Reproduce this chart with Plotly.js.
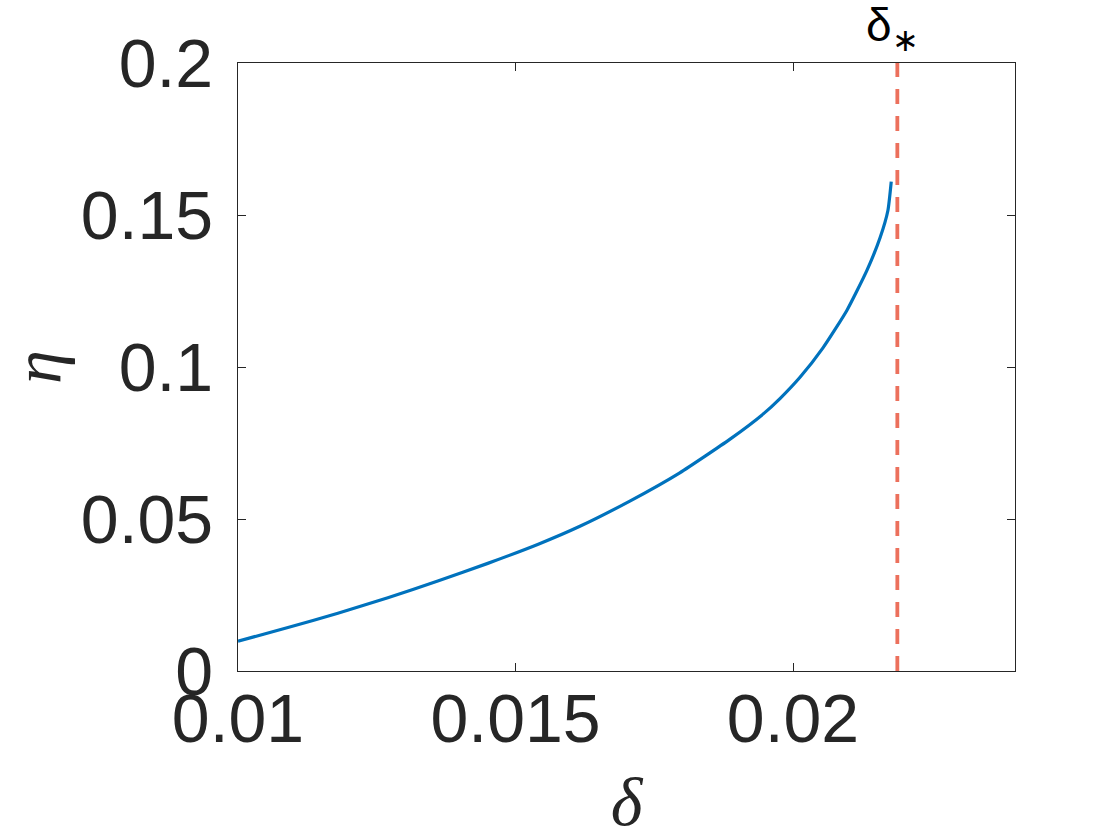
<!DOCTYPE html>
<html>
<head>
<meta charset="utf-8">
<script src="https://cdn.plot.ly/plotly-3.0.1.min.js"></script>
<style>html,body{margin:0;padding:0;background:#fff;}#chart{width:1120px;height:840px;}</style>
</head>
<body>
<div id="chart"></div>
<script>
// Curve data
const delta = [0.01000, 0.01090, 0.01180, 0.01270, 0.01360, 0.01450, 0.01541, 0.01616, 0.01706, 0.01796, 0.01886, 0.01946, 0.01977, 0.02013, 0.02054, 0.02097, 0.02133, 0.02157, 0.02171, 0.02177];
const eta   = [0.0098, 0.0143, 0.0190, 0.0241, 0.0296, 0.0354, 0.0417, 0.0476, 0.0559, 0.0652, 0.0762, 0.0845, 0.0897, 0.0967, 0.1063, 0.1186, 0.1317, 0.1426, 0.1515, 0.1610];
// Critical value marker
const deltaStar = 0.02188;
const starLabel = 'δ<sub>∗</sub>';
// Axis ticks
const xTickVals = [0.01, 0.015, 0.02];
const xTickText = ['0.01', '0.015', '0.02'];
const yTickVals = [0, 0.05, 0.1, 0.15, 0.2];
const yTickText = ['0', '0.05', '0.1', '0.15', '0.2'];
const xRange = [0.01, 0.024];
const yRange = [0, 0.2];

const traces = [
  {
    x: delta, y: eta, type: 'scatter', mode: 'lines',
    line: {color: '#0072BD', width: 3.2, shape: 'spline', smoothing: 0.5},
    showlegend: false, hoverinfo: 'skip'
  },
  {
    x: [deltaStar, deltaStar], y: yRange, type: 'scatter', mode: 'lines',
    line: {color: '#EC705C', width: 3.8, dash: '15px,12px'},
    showlegend: false, hoverinfo: 'skip'
  }
];

const axisCommon = {
  showline: true, linecolor: '#262626', linewidth: 1.2, mirror: 'ticks',
  ticks: 'inside', ticklen: 8, tickwidth: 1, tickcolor: '#262626',
  showgrid: false, zeroline: false,
  tickfont: {family: 'Liberation Sans, Arial, sans-serif', size: 68, color: '#262626'}
};

const layout = {
  width: 1120, height: 840,
  margin: {l: 238, r: 105, t: 63, b: 169, pad: 0},
  paper_bgcolor: '#ffffff', plot_bgcolor: '#ffffff',
  xaxis: Object.assign({}, axisCommon, {
    range: xRange, tickmode: 'array', tickvals: xTickVals, ticktext: xTickText,
    ticklabelstandoff: -12,
    title: {text: 'δ', standoff: 28, font: {family: 'Liberation Serif, Times New Roman, serif', size: 68, color: '#262626', style: 'italic'}}
  }),
  yaxis: Object.assign({}, axisCommon, {
    range: yRange, tickmode: 'array', tickvals: yTickVals, ticktext: yTickText,
    ticklabelstandoff: 10,
    title: {text: 'η', standoff: 13, font: {family: 'Liberation Serif, Times New Roman, serif', size: 68, color: '#262626', style: 'italic'}}
  }),
  annotations: [{
    x: deltaStar, xref: 'x', y: 1, yref: 'paper', yanchor: 'bottom', xanchor: 'center',
    text: starLabel, showarrow: false, yshift: 3, xshift: -5,
    font: {family: 'Liberation Sans, Arial, sans-serif', size: 46, color: '#000000'}
  }]
};

Plotly.newPlot('chart', traces, layout, {staticPlot: true, displayModeBar: false});
</script>
</body>
</html>
